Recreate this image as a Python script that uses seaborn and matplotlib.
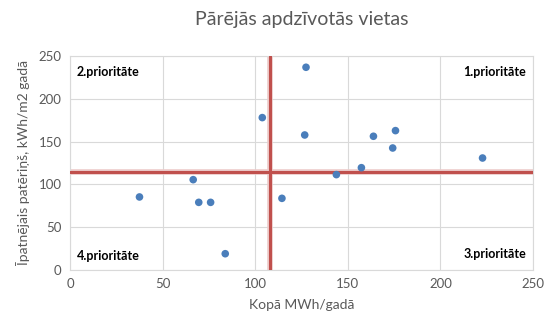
import numpy as np
import pandas as pd
import matplotlib.pyplot as plt
import seaborn as sns

# data
kopa_mwh = [37.5, 66.5, 69.5, 75.9, 83.8, 103.8, 114.4, 127.4, 126.7,
            143.8, 157.3, 163.8, 175.7, 174.2, 222.7]
patērinš = [85.3, 105.5, 79.0, 79.0, 19.0, 178.0, 83.7, 236.8, 157.7,
            111.4, 119.5, 156.2, 162.8, 142.5, 130.8]
x_threshold = 108
y_threshold = 114
x_ticks = [0, 50, 100, 150, 200, 250]
y_ticks = [0, 50, 100, 150, 200, 250]
quadrant_labels = ["1.prioritāte", "2.prioritāte", "3.prioritāte", "4.prioritāte"]

sns.set_theme(style="white")
plt.rcParams["font.family"] = ["Lato", "DejaVu Sans"]

GRAY_TEXT = "#595959"
GRID = "#d9d9d9"
DOT = "#4a7ebb"
RED = "#c0504d"

df = pd.DataFrame({"x": kopa_mwh, "y": patērinš})

fig = plt.figure(figsize=(5.44, 3.18), dpi=100)
ax = fig.add_axes([0.1287, 0.151, 0.8513, 0.673])

ax.set_xlim(0, 250)
ax.set_ylim(0, 250)
ax.set_xticks(x_ticks)
ax.set_yticks(y_ticks)
ax.grid(True, color=GRID, linewidth=0.8)
ax.set_axisbelow(True)
for s in ax.spines.values():
    s.set_color(GRID)
    s.set_linewidth(0.8)
ax.tick_params(axis="both", length=0, labelsize=9.5, colors=GRAY_TEXT, pad=6)

# threshold lines with a soft shadow like the original
ax.axvline(x_threshold, color="#eccac9", linewidth=4, zorder=2)
ax.axhline(y_threshold, color="#eccac9", linewidth=4, zorder=2)
ax.axvline(x_threshold, color=RED, linewidth=2.2, zorder=3)
ax.axhline(y_threshold, color=RED, linewidth=2.2, zorder=3)

sns.scatterplot(data=df, x="x", y="y", ax=ax, color=DOT, s=30,
                edgecolor="none", zorder=4)

ax.set_xlabel("Kopā MWh/gadā", fontsize=10, color=GRAY_TEXT, labelpad=6)
ax.set_ylabel("Īpatnējais patēriņš, kWh/m2 gadā", fontsize=10,
              color=GRAY_TEXT, labelpad=6)
ax.set_title("Pārējās apdzīvotās vietas", fontsize=14, color=GRAY_TEXT, pad=22)

kw = dict(transform=ax.transAxes, fontsize=9, fontweight="bold",
          color="black", zorder=5)
ax.text(0.985, 0.925, quadrant_labels[0], ha="right", va="center", **kw)
ax.text(0.015, 0.925, quadrant_labels[1], ha="left", va="center", **kw)
ax.text(0.985, 0.075, quadrant_labels[2], ha="right", va="center", **kw)
ax.text(0.015, 0.065, quadrant_labels[3], ha="left", va="center", **kw)

fig.savefig("out.png", dpi=100)
